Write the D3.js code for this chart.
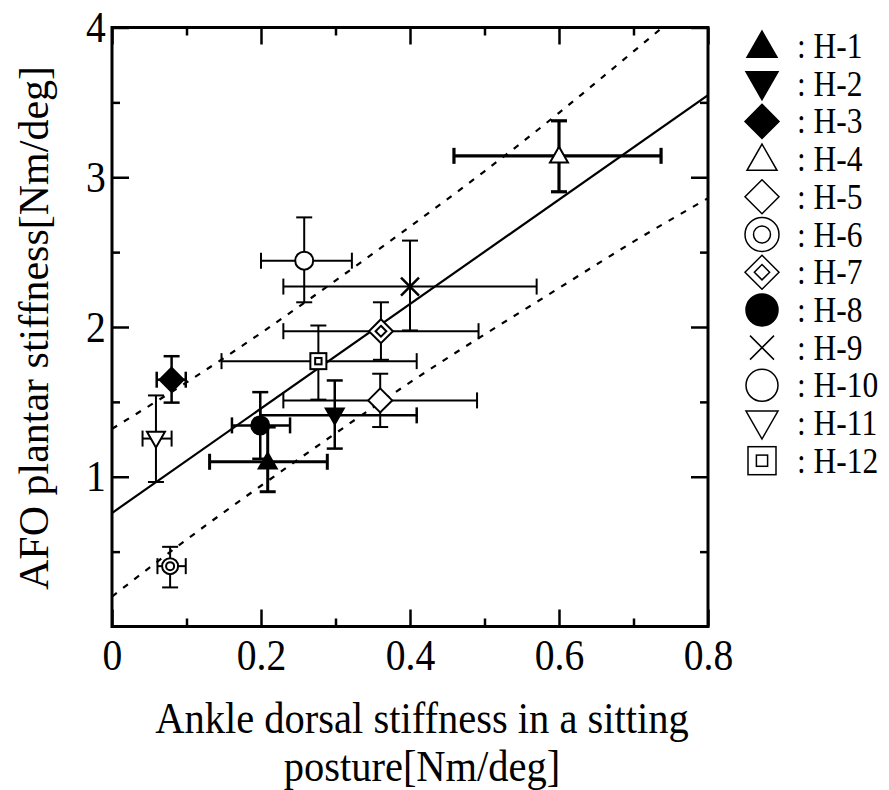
<!DOCTYPE html>
<html>
<head>
<meta charset="utf-8">
<script src="https://cdn.jsdelivr.net/npm/d3@7/dist/d3.min.js"></script>
<style>
  html, body { margin: 0; padding: 0; background: #fff; }
  svg { display: block; }
  text { font-family: "Liberation Serif", "DejaVu Serif", serif; fill: #000; }
</style>
</head>
<body>
<svg id="chart" width="889" height="790"></svg>
<script>
// ---- data ----
const subjects = ["H-1","H-2","H-3","H-4","H-5","H-6","H-7","H-8","H-9","H-10","H-11","H-12"];
const xValues = [0.209, 0.299, 0.080, 0.600, 0.360, 0.078, 0.361, 0.199, 0.400, 0.258, 0.059, 0.277];
const yValues = [1.100, 1.410, 1.648, 3.143, 1.510, 0.403, 1.972, 1.343, 2.270, 2.443, 1.255, 1.772];
const xLow    = [0.131, 0.199, 0.060, 0.459, 0.230, 0.061, 0.230, 0.161, 0.230, 0.200, 0.041, 0.147];
const xHigh   = [0.289, 0.409, 0.099, 0.737, 0.490, 0.099, 0.492, 0.239, 0.570, 0.322, 0.080, 0.409];
const yLow    = [0.900, 1.188, 1.495, 2.903, 1.332, 0.261, 1.781, 1.120, 1.977, 2.165, 0.965, 1.515];
const yHigh   = [1.332, 1.643, 1.805, 3.377, 1.688, 0.532, 2.165, 1.565, 2.577, 2.732, 1.543, 2.010];

// regression line and dashed band
const fitX = [0, 0.8];
const fitY = [0.758, 3.549];
const bandX     = [0, 0.1, 0.2, 0.3, 0.4, 0.5, 0.6, 0.7, 0.8];
const bandUpper = [1.32, 1.63, 1.96, 2.31, 2.67, 3.04, 3.43, 3.84, 4.25];
const bandLower = [0.20, 0.58, 0.94, 1.29, 1.63, 1.95, 2.26, 2.57, 2.86];

// axis ticks and labels
const xMajorTicks = [0, 0.2, 0.4, 0.6, 0.8];
const xMinorTicks = [0.1, 0.3, 0.5, 0.7];
const xTickLabels = ["0", "0.2", "0.4", "0.6", "0.8"];
const yMajorTicks = [1, 2, 3, 4];
const yMinorTicks = [0.5, 1.5, 2.5, 3.5];
const yTickLabels = ["1", "2", "3", "4"];
const xTitleLines = ["Ankle dorsal stiffness in a sitting", "posture[Nm/deg]"];
const yTitle = "AFO plantar stiffness[Nm/deg]";

// ---- styles (kept apart from data) ----
const markerStyle = {
  "H-1":  {type: "triUp",   fill: true,  s: 9,  bw: 3},
  "H-2":  {type: "triDown", fill: true,  s: 9,  bw: 2.5},
  "H-3":  {type: "diamond", fill: true,  s: 12, bw: 2.5},
  "H-4":  {type: "triUp",   fill: false, s: 9,  bw: 3.2},
  "H-5":  {type: "diamond", fill: false, s: 12, bw: 2},
  "H-6":  {type: "dcircle", fill: false, s: 8,  bw: 2},
  "H-7":  {type: "ddiamond",fill: false, s: 12, bw: 2},
  "H-8":  {type: "circle",  fill: true,  s: 9,  bw: 2.5},
  "H-9":  {type: "cross",   fill: false, s: 9,  bw: 2},
  "H-10": {type: "circle",  fill: false, s: 9,  bw: 2},
  "H-11": {type: "triDown", fill: false, s: 9,  bw: 2},
  "H-12": {type: "dsquare", fill: false, s: 8,  bw: 2}
};
const legendSize = {triUp: 15, triDown: 16, diamond: 17, dcircle: 17, ddiamond: 17, circle: 16, cross: 12, dsquare: 14};

const W = 889, H = 790;
const svg = d3.select("#chart");
const x = d3.scaleLinear().domain([0, 0.8]).range([112, 708]);
const y = d3.scaleLinear().domain([0, 4]).range([626.5, 27.5]);

// clip
svg.append("defs").append("clipPath").attr("id", "plotclip")
  .append("rect").attr("x", x(0)).attr("y", y(4)).attr("width", x(0.8) - x(0)).attr("height", y(0) - y(4));

// ---- axes ----
function styleAxis(g) {
  g.select(".domain").remove();
  g.selectAll(".tick line").attr("stroke", "#000").attr("stroke-width", 2.5);
  g.selectAll(".tick text").attr("font-family", "Liberation Serif").attr("fill", "#000");
}
const fs = 44;
// bottom major
svg.append("g").attr("transform", `translate(0,${y(0)})`)
  .call(d3.axisBottom(x).tickValues(xMajorTicks).tickSize(-17).tickPadding(12)
    .tickFormat((d, i) => xTickLabels[i]))
  .call(styleAxis)
  .call(g => g.selectAll(".tick text").attr("font-size", fs).attr("transform", "scale(0.9,1)"));
// bottom minor
svg.append("g").attr("transform", `translate(0,${y(0)})`)
  .call(d3.axisBottom(x).tickValues(xMinorTicks).tickSize(-8).tickFormat(""))
  .call(styleAxis);
// top
svg.append("g").attr("transform", `translate(0,${y(4)})`)
  .call(d3.axisTop(x).tickValues(xMajorTicks).tickSize(-17).tickFormat(""))
  .call(styleAxis);
svg.append("g").attr("transform", `translate(0,${y(4)})`)
  .call(d3.axisTop(x).tickValues(xMinorTicks).tickSize(-8).tickFormat(""))
  .call(styleAxis);
// left
svg.append("g").attr("transform", `translate(${x(0)},0)`)
  .call(d3.axisLeft(y).tickValues(yMajorTicks).tickSize(-17).tickPadding(7)
    .tickFormat((d, i) => yTickLabels[i]))
  .call(styleAxis)
  .call(g => g.selectAll(".tick text").attr("font-size", fs).attr("transform", "scale(0.9,1)"));
svg.append("g").attr("transform", `translate(${x(0)},0)`)
  .call(d3.axisLeft(y).tickValues(yMinorTicks).tickSize(-8).tickFormat(""))
  .call(styleAxis);
// right
svg.append("g").attr("transform", `translate(${x(0.8)},0)`)
  .call(d3.axisRight(y).tickValues(yMajorTicks).tickSize(-17).tickFormat(""))
  .call(styleAxis);
svg.append("g").attr("transform", `translate(${x(0.8)},0)`)
  .call(d3.axisRight(y).tickValues(yMinorTicks).tickSize(-8).tickFormat(""))
  .call(styleAxis);

// frame
svg.append("rect").attr("x", x(0)).attr("y", y(4))
  .attr("width", x(0.8) - x(0)).attr("height", y(0) - y(4))
  .attr("fill", "none").attr("stroke", "#000").attr("stroke-width", 3);

// ---- lines ----
const plot = svg.append("g").attr("clip-path", "url(#plotclip)");
plot.append("path")
  .attr("d", d3.line().x(d => x(d[0])).y(d => y(d[1]))(fitX.map((v, i) => [v, fitY[i]])))
  .attr("fill", "none").attr("stroke", "#000").attr("stroke-width", 2.2);
const bandLine = d3.line().x(d => x(d[0])).y(d => y(d[1])).curve(d3.curveNatural);
[bandUpper, bandLower].forEach(arr => {
  plot.append("path")
    .attr("d", bandLine(bandX.map((v, i) => [v, arr[i]])))
    .attr("fill", "none").attr("stroke", "#000").attr("stroke-width", 2.2)
    .attr("stroke-dasharray", "6,8");
});

// ---- markers ----
function drawMarker(g, type, filled, s, sw) {
  const fill = filled ? "#000" : "#fff";
  const add = (sel) => sel.attr("fill", fill).attr("stroke", "#000").attr("stroke-width", sw);
  switch (type) {
    case "triUp":
      add(g.append("path").attr("d", `M0,${-s} L${s},${s*0.75} L${-s},${s*0.75} Z`)); break;
    case "triDown":
      add(g.append("path").attr("d", `M0,${s} L${s},${-s*0.75} L${-s},${-s*0.75} Z`)); break;
    case "diamond":
      add(g.append("path").attr("d", `M0,${-s} L${s},0 L0,${s} L${-s},0 Z`)); break;
    case "ddiamond":
      add(g.append("path").attr("d", `M0,${-s} L${s},0 L0,${s} L${-s},0 Z`));
      add(g.append("path").attr("d", `M0,${-s*0.45} L${s*0.45},0 L0,${s*0.45} L${-s*0.45},0 Z`)); break;
    case "circle":
      add(g.append("circle").attr("r", s)); break;
    case "dcircle":
      add(g.append("circle").attr("r", s));
      add(g.append("circle").attr("r", s*0.5)); break;
    case "dsquare":
      add(g.append("rect").attr("x", -s).attr("y", -s).attr("width", 2*s).attr("height", 2*s));
      add(g.append("rect").attr("x", -s*0.4).attr("y", -s*0.4).attr("width", s*0.8).attr("height", s*0.8)); break;
    case "cross":
      g.append("path").attr("d", `M${-s},${-s} L${s},${s} M${-s},${s} L${s},${-s}`)
        .attr("stroke", "#000").attr("stroke-width", sw).attr("fill", "none"); break;
  }
}

const cap = 8;
subjects.forEach((name, i) => {
  const st = markerStyle[name];
  const g = svg.append("g");
  const cx = x(xValues[i]), cy = y(yValues[i]);
  const bw = st.bw;
  g.append("line").attr("x1", x(xLow[i])).attr("x2", x(xHigh[i])).attr("y1", cy).attr("y2", cy)
    .attr("stroke", "#000").attr("stroke-width", bw);
  [xLow[i], xHigh[i]].forEach(v => g.append("line").attr("x1", x(v)).attr("x2", x(v))
    .attr("y1", cy - cap).attr("y2", cy + cap).attr("stroke", "#000").attr("stroke-width", bw));
  g.append("line").attr("x1", cx).attr("x2", cx).attr("y1", y(yLow[i])).attr("y2", y(yHigh[i]))
    .attr("stroke", "#000").attr("stroke-width", bw);
  [yLow[i], yHigh[i]].forEach(v => g.append("line").attr("y1", y(v)).attr("y2", y(v))
    .attr("x1", cx - cap).attr("x2", cx + cap).attr("stroke", "#000").attr("stroke-width", bw));
});
subjects.forEach((name, i) => {
  const st = markerStyle[name];
  const g = svg.append("g").attr("transform", `translate(${x(xValues[i])},${y(yValues[i])})`);
  drawMarker(g, st.type, st.fill, st.s, st.type === "cross" ? 2.5 : 2);
});

// ---- legend ----
const legY0 = 46, legDy = 37.7;
subjects.forEach((name, i) => {
  const st = markerStyle[name];
  const yy = legY0 + i * legDy;
  const g = svg.append("g").attr("transform", `translate(762,${yy})`);
  drawMarker(g, st.type, st.fill, legendSize[st.type], 1.5);
  svg.append("text").attr("transform", `translate(797,${yy + 12}) scale(0.9,1)`)
    .attr("font-size", 35).text(": " + name);
});

// ---- titles ----
xTitleLines.forEach((t, i) => {
  svg.append("text").attr("transform", `translate(422,${733 + i * 48}) scale(0.9,1)`)
    .attr("text-anchor", "middle").attr("font-size", 45).text(t);
});
svg.append("text").attr("transform", `translate(48,328) rotate(-90)`)
  .attr("text-anchor", "middle").attr("font-size", 42).text(yTitle);
</script>
</body>
</html>
